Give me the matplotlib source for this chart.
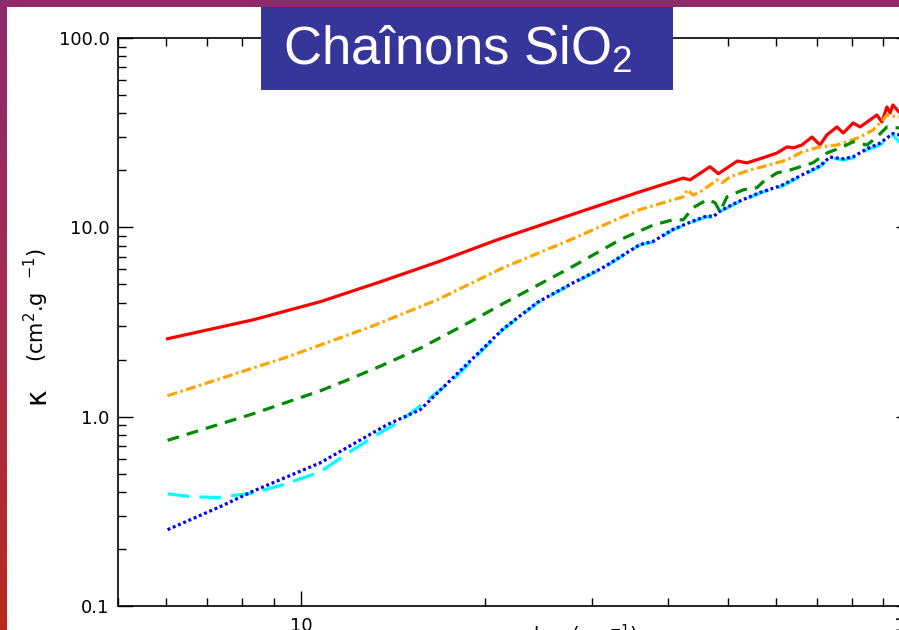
import numpy as np
import matplotlib
matplotlib.use('Agg')
import matplotlib.pyplot as plt
from matplotlib.patches import Rectangle
from matplotlib.colors import LinearSegmentedColormap
from matplotlib.ticker import FixedLocator, FixedFormatter, LogLocator, NullFormatter

# data (wavenumber in cm-1, kappa in cm2/g)
red_x = [6.03, 8.34, 10.74, 13.48, 16.9, 20.94, 27.6, 35.9, 42.3, 43.4, 46.8, 48.3,
         51.9, 53.8, 57.2, 60.3, 62.6, 64.1, 66.2, 68.8, 70.9, 72.8, 75.6, 77.4,
         80.4, 82.5, 84.7, 87.9, 89.6, 91.3, 92.4, 93.4, 95.5, 100]
red_y = [2.58, 3.25, 4.05, 5.16, 6.64, 8.59, 11.6, 15.4, 18.2, 17.8, 20.9, 19.2,
         22.4, 21.9, 23.3, 24.7, 26.6, 26.3, 27.2, 30.0, 27.2, 30.8, 33.9, 31.5,
         35.6, 33.9, 36.0, 39.2, 36.0, 43.2, 40.2, 44.3, 40.7, 42.5]

orange_x = [6.03, 9.49, 12.97, 16.7, 21.4, 27.6, 33.3, 35.9, 42.3, 43.0, 43.9, 45.1,
            48.1, 49.0, 50.5, 54.5, 58.7, 62.6, 66.2, 70.9, 75.6, 78.6, 82.5, 86.7,
            89.9, 91.3, 95.5, 100]
orange_y = [1.29, 2.07, 2.98, 4.14, 6.11, 8.59, 11.2, 12.4, 14.5, 15.8, 14.8, 15.4,
            17.8, 17.2, 18.5, 20.1, 21.4, 22.7, 25.0, 26.6, 27.2, 28.3, 30.0, 32.7,
            36.9, 39.2, 38.3, 40.5]

green_x = [6.03, 8.34, 10.74, 12.0, 13.48, 15.67, 18.92, 21.4, 27.6, 33.3, 37.8, 40.7,
           42.3, 43.9, 46.3, 47.7, 48.6, 49.9, 53.1, 55.9, 57.2, 60.3, 63.4, 69.0,
           72.8, 76.6, 80.4, 84.7, 87.9, 91.3, 95.5, 100]
green_y = [0.750, 1.037, 1.37, 1.58, 1.85, 2.30, 3.17, 3.95, 6.11, 8.59, 10.3, 10.96,
           10.96, 12.7, 14.0, 13.5, 12.1, 14.5, 15.8, 16.2, 17.4, 19.4, 20.1, 21.9,
           24.7, 26.3, 28.3, 27.2, 30.0, 33.9, 33.5, 35.2]

cyan_x = [6.03, 6.6, 7.28, 8.34, 9.5, 10.74, 12.16, 13.48, 14.69, 17.74, 21.4, 24.4,
          27.6, 31.3, 35.9, 37.8, 40.7, 43.9, 46.3, 47.4, 48.6, 51.9, 56.6, 61.2,
          65.8, 70.9, 73.6, 77.4, 80.4, 84.7, 88.9, 93.4, 95.5, 100]
cyan_y = [0.391, 0.378, 0.374, 0.395, 0.445, 0.512, 0.670, 0.823, 0.97, 1.57, 2.88, 3.99,
          4.97, 6.11, 8.08, 8.38, 9.70, 10.7, 11.4, 11.2, 12.1, 13.5, 15.2, 16.4,
          18.5, 20.9, 23.3, 22.7, 23.3, 25.7, 27.2, 30.8, 28.3, 29.5]

blue_x = [6.03, 7.36, 8.34, 10.74, 13.82, 15.67, 17.74, 21.4, 24.4, 27.6, 31.3, 35.9,
          37.8, 40.7, 43.9, 46.3, 47.4, 48.6, 51.9, 56.6, 61.2, 65.8, 70.9, 73.6,
          77.4, 80.4, 84.7, 88.9, 93.4, 95.5, 100]
blue_y = [0.253, 0.335, 0.405, 0.571, 0.907, 1.09, 1.61, 2.90, 4.02, 5.0, 6.15, 8.1,
          8.45, 9.75, 10.8, 11.5, 11.4, 12.2, 13.6, 15.3, 16.6, 18.7, 21.1, 23.5,
          23.0, 23.6, 26.0, 27.8, 31.3, 30.8, 31.6]

y_ticks = [0.1, 1, 10, 100]
y_labels = ['0.1', '1.0', '10.0', '100.0']
x_ticks = [10, 100]
x_labels = ['10', '100']

plt.rcParams['lines.scale_dashes'] = False

fig = plt.figure(figsize=(8.99, 6.30), dpi=100, facecolor='white')
ax = fig.add_axes([118/899, 24/630, 793/899, 568/630])
ax.set_xscale('log')
ax.set_yscale('log')

lw = 2.3
ax.plot(red_x, red_y, color='#ff0000', lw=lw, solid_joinstyle='round')
ax.plot(orange_x, orange_y, color='#ffa500', lw=lw,
        linestyle=(0, (7.2, 2.5, 1.8, 2.5)))
ax.plot(green_x, green_y, color='#008c00', lw=lw, linestyle=(0, (8.6, 5.8)))
ax.plot(cyan_x, cyan_y, color='#00ffff', lw=lw, linestyle=(0, (15.8, 7.2)))
ax.plot(blue_x, blue_y, color='#0000ff', lw=lw, linestyle=(0, (2.1, 2.0)))

ax.set_xlim(5, 100)
ax.set_ylim(0.1, 100)
ax.yaxis.set_major_locator(FixedLocator(y_ticks))
ax.yaxis.set_major_formatter(FixedFormatter(y_labels))
ax.xaxis.set_major_locator(FixedLocator(x_ticks))
ax.xaxis.set_major_formatter(FixedFormatter(x_labels))
for a in (ax.xaxis, ax.yaxis):
    a.set_minor_locator(LogLocator(base=10, subs=np.arange(2, 10)))
    a.set_minor_formatter(NullFormatter())

ax.tick_params(which='both', direction='in', top=True, right=True, width=1.0,
               labelsize=13)
ax.tick_params(which='major', length=11)
ax.tick_params(which='minor', length=5.5)
ax.tick_params(axis='x', pad=8)
ax.tick_params(axis='y', pad=6)
for s in ax.spines.values():
    s.set_linewidth(1.2)

# y label: a larger kappa, then the units
fig.text(36/899, 1 - 396/630, 'κ', rotation=90, ha='center', va='center', fontsize=20)
fig.text(36/899, 1 - 305/630, '(cm$^2$.g  $^{-1}$)', rotation=90,
         ha='center', va='center', fontsize=15)
fig.text(538/899, 8/630, 'wavenumber (cm$^{-1}$)', ha='center', va='top', fontsize=14)

# slide decoration: gradient edge on the left, band on top, title box
edge = fig.add_axes([0, 0, 7/899, 1])
edge_cmap = LinearSegmentedColormap.from_list('edge', ['#8d2b6b', '#a42a4f', '#b92a1c'])
edge.imshow(np.linspace(0, 1, 256)[:, None], aspect='auto', cmap=edge_cmap,
            extent=[0, 1, 0, 1], origin='upper')
edge.axis('off')

fig.add_artist(Rectangle((0, 623/630), 1, 7/630, transform=fig.transFigure,
                         facecolor='#8e2c6a', edgecolor='none', zorder=5))
fig.add_artist(Rectangle((261/899, 540/630), 412/899, 83/630, transform=fig.transFigure,
                         facecolor='#363599', edgecolor='none', zorder=5))
fig.text(283/899, 566/630, 'Chaînons SiO$_\\mathregular{2}$', color='white',
         fontsize=38, family='Liberation Sans', ha='left', va='baseline', zorder=6)

fig.savefig('out.png', dpi=100, facecolor='white')
